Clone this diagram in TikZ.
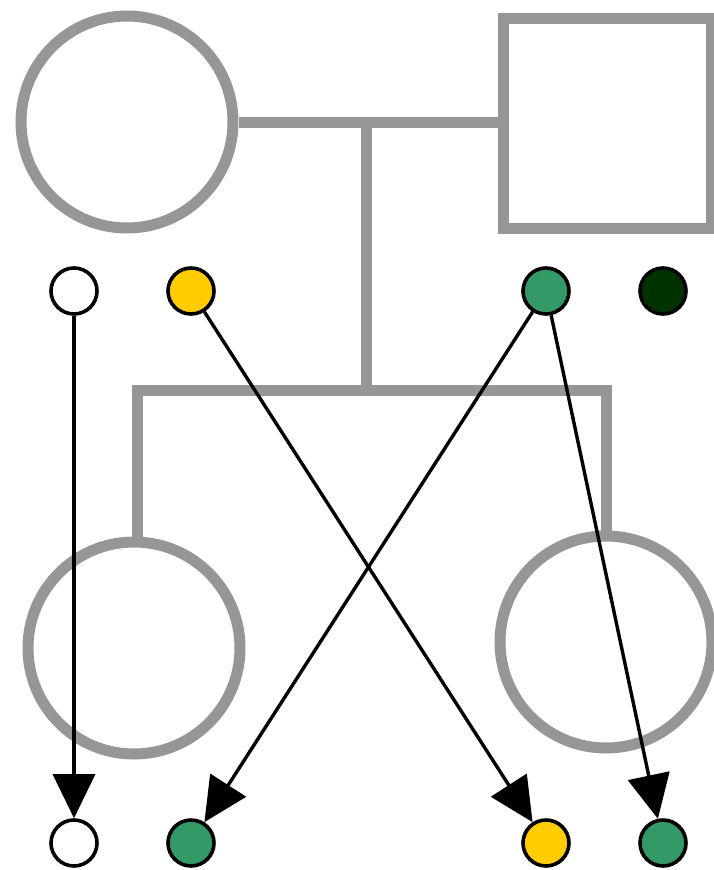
\documentclass[tikz,border=0pt]{standalone}
\usetikzlibrary{arrows.meta}
\definecolor{pedgray}{HTML}{969696}
\definecolor{ayellow}{HTML}{FFCC00}
\definecolor{agreen}{HTML}{339966}
\definecolor{adark}{HTML}{003300}
\begin{document}
\begin{tikzpicture}[x=1pt,y=-1pt,
  person/.style={draw=pedgray,line width=11pt,fill=white},
  pline/.style={draw=pedgray,line width=11pt},
  allele/.style={circle,draw=black,line width=3.6pt,minimum size=46pt,inner sep=0pt},
  inh/.style={draw=black,line width=3.4pt,-{Triangle[length=44pt,width=42pt]}}]
\useasboundingbox (0,0) rectangle (714,870);
% parents
\node[person,circle,minimum size=212pt,inner sep=0pt] (mother) at (127,122) {};
\node[person,rectangle,minimum width=208pt,minimum height=210pt,inner sep=0pt] (father) at (607,123) {};
\coordinate (mid) at (366,122);
\coordinate (sib) at (366,390);
\coordinate (sl) at (137,390);
\coordinate (sr) at (606,390);
\draw[pline] (mother.east) -- (mother.east -| father.west);
\draw[pline] (mid) -- (sib);
\draw[pline,line cap=rect] (sl) -- (sr);
% children
\node[person,circle,minimum size=212pt,inner sep=0pt] (child1) at (134,648) {};
\node[person,circle,minimum size=212pt,inner sep=0pt] (child2) at (606,642) {};
\draw[pline] (sl) -- (sl |- child1.north);
\draw[pline] (sr) -- (child2.north);
% alleles
\node[allele,fill=white] (m1) at (74,291) {};
\node[allele,fill=ayellow] (m2) at (191,291) {};
\node[allele,fill=agreen] (f1) at (546,291) {};
\node[allele,fill=adark] (f2) at (663,291) {};
\node[allele,fill=white] (c1a) at (74,843) {};
\node[allele,fill=agreen] (c1b) at (191,843) {};
\node[allele,fill=ayellow] (c2a) at (546,843) {};
\node[allele,fill=agreen] (c2b) at (663,843) {};
\draw[inh] (m1) -- (c1a);
\draw[inh] (m2) -- (c2a);
\draw[inh] (f1) -- (c1b);
\draw[inh] (f1) -- (c2b);
\end{tikzpicture}
\end{document}
